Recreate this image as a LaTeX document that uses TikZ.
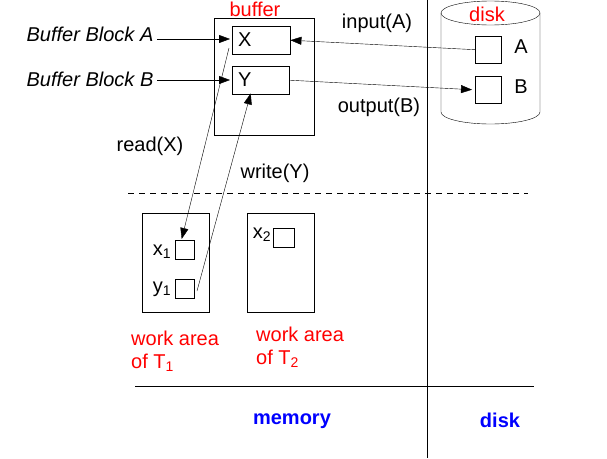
\documentclass[tikz,border=0pt]{standalone}
\usepackage{fontspec}
\setmainfont{Liberation Sans}
\usetikzlibrary{arrows.meta,shapes.geometric}
\begin{document}
\begin{tikzpicture}[x=1pt,y=-1pt,font=\fontsize{20}{23}\selectfont,
  box/.style={draw,inner sep=0pt,anchor=north west},
  lbl/.style={inner sep=0pt},
  red/.style={lbl,text=red},
  blu/.style={lbl,text=blue,font=\fontsize{20}{23}\selectfont\bfseries},
  arr/.style={-{Triangle[length=11pt,width=8pt]}}]
  \useasboundingbox (0,0) rectangle (607,458);
  % buffer
  \node[box,minimum width=100pt,minimum height=117pt] (buf) at (214,18) {};
  \node[red] (bufl) at (255,9) {buffer};
  \node[box,minimum width=58pt,minimum height=28pt] (X) at (232,26) {};
  \node[lbl,anchor=west] at (238,40) {X};
  \node[box,minimum width=57pt,minimum height=28pt] (Y) at (232,66) {};
  \node[lbl,anchor=west] at (238,80) {Y};
  % disk
  \draw (441,13) -- (441,112) arc[start angle=180,end angle=0,x radius=49.5,y radius=12]
    -- (540,13);
  \draw (490.5,13) ellipse[x radius=49.5,y radius=12];
  \node[red] (diskl) at (487,14) {disk};
  \node[box,minimum width=26pt,minimum height=27pt] (A) at (475,36) {};
  \node[lbl] at (521,47) {A};
  \node[box,minimum width=26pt,minimum height=27pt] (B) at (475,76) {};
  \node[lbl] at (521,87) {B};
  \draw[arr] (A.west) -- (X.east);
  \draw[arr] (Y.east) -- ([xshift=-3pt]B.west);
  \node[lbl] (inp) at (377,23) {input(A)};
  \node[lbl] (outp) at (379,107) {output(B)};
  % labels on the left
  \node[lbl,font=\fontsize{20}{23}\selectfont\itshape] (bba) at (90,34) {Buffer Block A};
  \node[lbl,font=\fontsize{20}{23}\selectfont\itshape] (bbb) at (90,79) {Buffer Block B};
  \coordinate (ca) at (157,39);
  \coordinate (cb) at (157,80);
  \draw[arr] (ca) -- ([xshift=-2pt]X.west|-ca);
  \draw[arr] (cb) -- ([xshift=-2pt]Y.west|-cb);
  % lines
  \draw (427,0) -- (427,458);
  \draw[dash pattern=on 6pt off 5pt,line width=1pt] (128,193) -- (528,193);
  \draw (135,386) -- (534,386);
  % work areas
  \node[box,minimum width=67pt,minimum height=99pt] (T1) at (142,213) {};
  \node[box,minimum width=19pt,minimum height=19pt] (x1) at (175,240) {};
  \node[lbl] at (162,252) {x\textsubscript{1}};
  \node[box,minimum width=19pt,minimum height=19pt] (y1) at (175,279) {};
  \node[lbl] at (162,289) {y\textsubscript{1}};
  \node[box,minimum width=67pt,minimum height=99pt] (T2) at (247,213) {};
  \node[box,minimum width=21pt,minimum height=19pt] (x2) at (273,228) {};
  \node[lbl] at (262,235) {x\textsubscript{2}};
  \coordinate (rs) at (229,48);
  \coordinate (ws) at (197,291);
  \draw[arr] (rs) -- ([xshift=-3pt,yshift=1pt]x1.north);
  \draw[arr] (ws) -- ([xshift=-10pt,yshift=1pt]Y.south);
  \node[lbl] (rd) at (150,146) {read(X)};
  \node[lbl] (wr) at (275,173) {write(Y)};
  \node[red,anchor=west,align=left] (wa1) at (131,351) {work area\\of T\textsubscript{1}};
  \node[red,anchor=west,align=left] (wa2) at (256,347) {work area\\of T\textsubscript{2}};
  \node[blu] (mem) at (292,421) {memory};
  \node[blu] (dsk) at (500,420) {disk};
\end{tikzpicture}
\end{document}
